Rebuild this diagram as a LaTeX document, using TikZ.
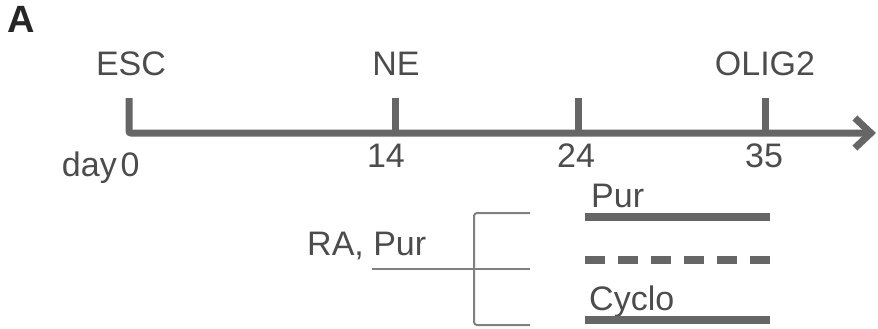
\documentclass[tikz,border=0pt]{standalone}
\usepackage{fontspec}
\setmainfont{Liberation Sans}
\usetikzlibrary{arrows.meta}
\begin{document}
\begin{tikzpicture}[x=1pt,y=-1pt,
  lbl/.style={font=\fontsize{34}{40}\selectfont, text=black!70, inner sep=0pt},
  axisline/.style={line width=7pt, draw=black!60},
  thinline/.style={line width=2pt, draw=black!50, rounded corners=3pt},
  barline/.style={line width=8pt, draw=black!60}]
\useasboundingbox (0,0) rectangle (878,329);
% panel letter
\node[font=\fontsize{38}{44}\selectfont\bfseries, text=black!85, anchor=north west, inner sep=0pt] (A) at (7,6) {A};
% timeline coordinates
\coordinate (t0top) at (129,98);
\coordinate (t0) at (129,133);
\coordinate (t14top) at (395,98);
\coordinate (t14) at (395,133);
\coordinate (t24top) at (578,98);
\coordinate (t24) at (578,133);
\coordinate (t35top) at (765,98);
\coordinate (t35) at (765,133);
\coordinate (tend) at (876,133);
% axis
\draw[axisline, rounded corners=2pt, -{Straight Barb[length=16pt,width=30pt]}] (t0top) -- (t0) -- (tend);
\draw[axisline] (t14top) -- (t14);
\draw[axisline] (t24top) -- (t24);
\draw[axisline] (t35top) -- (t35);
% stage labels
\node[lbl, anchor=base] (esc) at (131,75) {ESC};
\node[lbl, anchor=base] (ne) at (396,75) {NE};
\node[lbl, anchor=base] (olig) at (765,75) {OLIG2};
% day labels
\node[lbl, anchor=base east] (day) at (117,176) {day};
\node[lbl, anchor=base] (d0) at (130,176) {0};
\node[lbl, anchor=base] (d14) at (386,167) {14};
\node[lbl, anchor=base] (d24) at (576,167) {24};
\node[lbl, anchor=base] (d35) at (764,167) {35};
% treatment bracket
\node[lbl, anchor=base west] (rapur) at (307,255) {RA, Pur};
\coordinate (rain) at (372,269);
\coordinate (btop) at (474,213);
\coordinate (bbot) at (474,325);
\coordinate (btopE) at (530,213);
\coordinate (bmidE) at (530,269);
\coordinate (bbotE) at (530,325);
\draw[thinline] (btopE) -- (btop) -- (bbot) -- (bbotE);
\draw[thinline] (rain) -- (bmidE);
% conditions
\node[lbl, anchor=base west] (pur) at (591,207) {Pur};
\coordinate (l1a) at (585,217);
\coordinate (l1b) at (770,217);
\draw[barline] (l1a) -- (l1b);
\coordinate (l2a) at (585,260);
\coordinate (l2b) at (772,260);
\draw[barline, dash pattern=on 20pt off 13pt] (l2a) -- (l2b);
\node[lbl, anchor=base west] (cyclo) at (589,310) {Cyclo};
\coordinate (l3a) at (585,320);
\coordinate (l3b) at (770,320);
\draw[barline] (l3a) -- (l3b);
\end{tikzpicture}
\end{document}
